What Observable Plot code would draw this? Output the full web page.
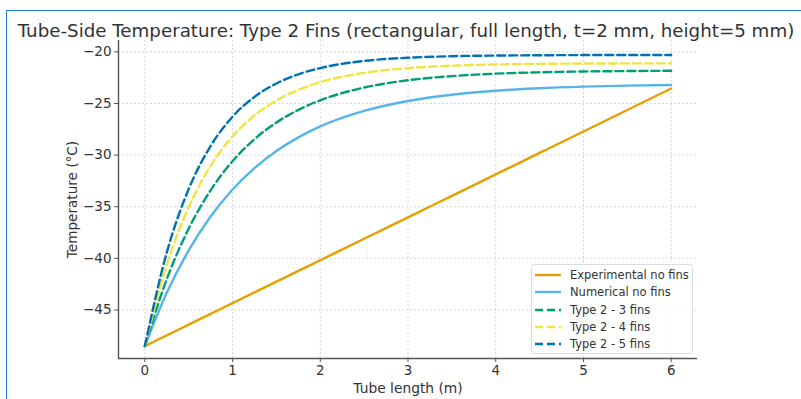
<!DOCTYPE html>
<html>
<head>
<meta charset="utf-8">
<script src="https://cdn.jsdelivr.net/npm/d3@7"></script>
<script src="https://cdn.jsdelivr.net/npm/@observablehq/plot@0.6"></script>
<style>
html,body{margin:0;padding:0;background:#fff;}
#wrap{position:relative;width:801px;height:399px;overflow:hidden;font-family:"DejaVu Sans",sans-serif;}
#chart > svg{position:absolute;left:0;top:0;}
#border{position:absolute;left:6px;top:10px;right:-4px;bottom:-4px;border-left:1.5px solid #1f7bd0;border-top:1.5px solid #1f7bd0;pointer-events:none;}
#title{position:absolute;top:19.5px;left:406px;transform:translateX(-50%);font-size:18.25px;line-height:22px;color:#333;white-space:nowrap;}
#legend{position:absolute;left:531px;top:264px;width:162px;height:90px;box-sizing:border-box;border:1px solid #dcdcdc;border-radius:3px;background:rgba(255,255,255,0.85);font-size:11.5px;color:#333;}
.row{position:absolute;left:0;height:17px;display:flex;align-items:center;white-space:nowrap;}
.row svg{display:block;margin-left:3px;margin-right:9px;}
</style>
</head>
<body>
<div id="wrap">
  <div id="chart"></div>
  <div id="title"></div>
  <div id="legend"></div>
  <div id="border"></div>
</div>
<script>
const titleText = "Tube-Side Temperature: Type 2 Fins (rectangular, full length, t=2 mm, height=5 mm)";
const xLabel = "Tube length (m)";
const yLabel = "Temperature (°C)";
const xTicks = [0, 1, 2, 3, 4, 5, 6];
const yTicks = [-45, -40, -35, -30, -25, -20];
const xDomain = [-0.3, 6.3];
const yDomain = [-49.7, -18.9];

const seriesNames = ["Experimental no fins", "Numerical no fins", "Type 2 - 3 fins", "Type 2 - 4 fins", "Type 2 - 5 fins"];
const seriesColors = ["#E69F00", "#56B4E9", "#009E73", "#F0E442", "#0072B2"];
const seriesDashed = [false, false, true, true, true];

const xPos = [0, 0.25, 0.5, 0.75, 1, 1.25, 1.5, 1.75, 2, 2.5, 3, 3.5, 4, 4.5, 5, 5.5, 6];
const experimental = [-48.5, -47.46, -46.42, -45.38, -44.34, -43.30, -42.26, -41.22, -40.18, -38.10, -36.03, -33.95, -31.87, -29.79, -27.71, -25.63, -23.55];
const numerical   = [-48.5, -43.34, -39.23, -35.95, -33.33, -31.26, -29.60, -28.28, -27.22, -25.72, -24.76, -24.15, -23.77, -23.52, -23.37, -23.27, -23.21];
const fins3       = [-48.5, -42.02, -37.12, -33.41, -30.59, -28.46, -26.84, -25.62, -24.69, -23.46, -22.75, -22.35, -22.11, -21.98, -21.90, -21.86, -21.83];
const fins4       = [-48.5, -40.64, -35.04, -31.04, -28.19, -26.16, -24.71, -23.68, -22.94, -22.03, -21.58, -21.34, -21.22, -21.16, -21.13, -21.12, -21.11];
const fins5       = [-48.5, -39.44, -33.29, -29.12, -26.28, -24.36, -23.06, -22.17, -21.57, -20.88, -20.57, -20.42, -20.36, -20.33, -20.31, -20.30, -20.30];
const seriesValues = [experimental, numerical, fins3, fins4, fins5];

const rowsFor = (vals) => xPos.map((x, i) => ({x, y: vals[i]}));
const DASH = "8,4";

const lineMarks = seriesValues.map((vals, i) =>
  Plot.line(rowsFor(vals), {
    x: "x", y: "y",
    stroke: seriesColors[i],
    strokeWidth: 2.4,
    strokeDasharray: seriesDashed[i] ? DASH : null,
    curve: "monotone-x"
  })
);

const chart = Plot.plot({
  width: 801,
  height: 399,
  marginLeft: 118,
  marginRight: 104,
  marginTop: 40,
  marginBottom: 41,
  style: {fontFamily: "DejaVu Sans, sans-serif", background: "transparent", overflow: "visible"},
  x: {domain: xDomain},
  y: {domain: yDomain},
  marks: [
    Plot.gridX(xTicks, {stroke: "#b8b8b8", strokeOpacity: 0.7, strokeDasharray: "2,2", strokeWidth: 0.8}),
    Plot.gridY(yTicks, {stroke: "#b8b8b8", strokeOpacity: 0.7, strokeDasharray: "2,2", strokeWidth: 0.8}),
    ...lineMarks,
    Plot.ruleX([xDomain[0]], {stroke: "#555", strokeWidth: 1.4}),
    Plot.ruleY([yDomain[0]], {stroke: "#555", strokeWidth: 1.4}),
    Plot.axisX(xTicks, {tickSize: 4, tickPadding: 3, fontSize: 13.5, fill: "#333", stroke: "#555", label: null}),
    Plot.axisY(yTicks, {tickSize: 4, tickPadding: 3, fontSize: 13.5, fill: "#333", stroke: "#555", label: null}),
    Plot.text([xLabel], {text: d => d, frameAnchor: "bottom", dy: 30, lineAnchor: "middle", fontSize: 13.8, fill: "#333"}),
    Plot.text([yLabel], {text: d => d, frameAnchor: "left", dx: -46, rotate: -90, textAnchor: "middle", lineAnchor: "middle", fontSize: 13.6, fill: "#333"})
  ]
});
document.getElementById("chart").appendChild(chart);
document.getElementById("title").textContent = titleText;

const legend = document.getElementById("legend");
seriesNames.forEach((name, i) => {
  const row = document.createElement("div");
  row.className = "row";
  row.style.top = (1.5 + 17.25 * i) + "px";
  const dash = seriesDashed[i] ? ` stroke-dasharray="${DASH}"` : '';
  row.innerHTML = `<svg width="26" height="6"><line x1="0" x2="26" y1="3" y2="3" stroke="${seriesColors[i]}" stroke-width="2.4"${dash}/></svg><span>${name}</span>`;
  legend.appendChild(row);
});
</script>
</body>
</html>
